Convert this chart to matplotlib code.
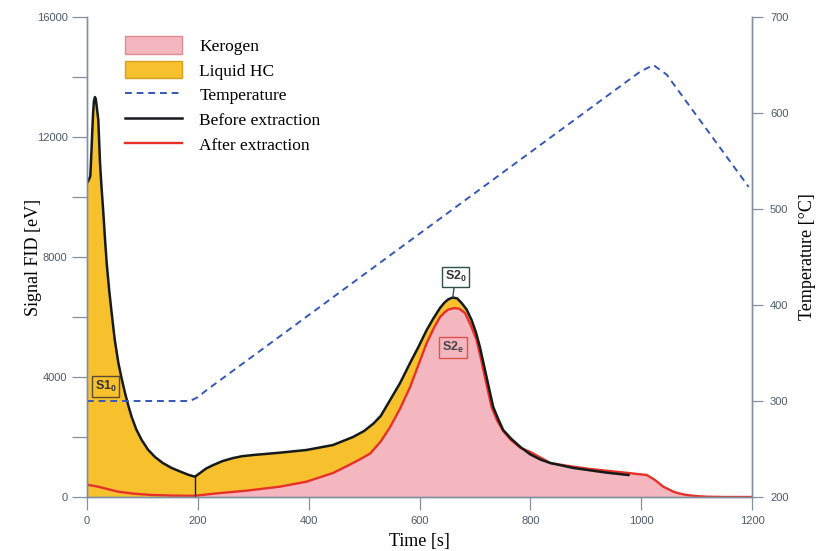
import matplotlib
matplotlib.use("Agg")
import matplotlib.pyplot as plt
from matplotlib.patches import Patch
from matplotlib.lines import Line2D
import numpy as np

plt.rcParams['mathtext.fontset'] = 'custom'
plt.rcParams['mathtext.bf'] = 'Liberation Sans:bold'
plt.rcParams['mathtext.rm'] = 'Liberation Sans'

# signal before extraction (black)
t_before = [0, 3, 6, 8, 9.6, 11, 12.5, 14.4, 16, 18, 20.4, 23.5, 26.5, 29.5, 32.5, 35.5,
            40, 44.5, 50, 56.6, 62.5, 68.6, 74.5, 80.6, 89, 98.7, 110, 122.7, 137, 152.8,
            168, 183, 192, 195, 204, 215, 228, 245, 264, 280, 300, 348, 396, 444, 480,
            500, 517, 530, 547, 565, 583, 598, 613, 625, 637, 645, 652, 660, 668, 676,
            685, 694, 702, 709, 715, 721, 727, 733, 742, 751, 765, 782, 800, 818, 836,
            878, 938, 977]
s_before = [10467, 10560, 10700, 11500, 12233, 12800, 13200, 13333, 13250, 12950, 12567,
            11133, 10250, 9467, 8600, 7800, 6900, 6133, 5250, 4467, 3950, 3467, 3050, 2667,
            2250, 1900, 1580, 1333, 1130, 967, 850, 740, 690, 680, 800, 950, 1067, 1200,
            1300, 1360, 1400, 1477, 1567, 1733, 2000, 2200, 2450, 2700, 3233, 3800, 4467,
            5000, 5567, 5950, 6300, 6480, 6590, 6650, 6620, 6467, 6250, 5900, 5480, 5000,
            4500, 4000, 3500, 3000, 2600, 2233, 1950, 1667, 1420, 1250, 1133, 967, 811,
            733]

# signal after extraction (red)
t_after = [0, 20, 40, 56, 85, 117, 160, 195, 228, 288, 348, 396, 444, 480, 495, 511,
           530, 547, 565, 583, 598, 613, 625, 637, 645, 652, 664, 672, 682, 692, 703,
           711, 718, 724, 730, 740, 751, 765, 782, 800, 836, 870, 908, 977, 1010, 1025,
           1032, 1040, 1048, 1058, 1068, 1082, 1100, 1118, 1150, 1200]
s_after = [410, 344, 250, 178, 110, 67, 45, 40, 110, 211, 344, 511, 800, 1133, 1280,
           1450, 1850, 2333, 2950, 3667, 4400, 5133, 5600, 6000, 6150, 6250, 6300, 6270,
           6133, 5750, 5233, 4600, 4000, 3500, 3000, 2550, 2200, 1900, 1640, 1500, 1133,
           1030, 933, 800, 733, 567, 460, 344, 270, 178, 120, 67, 30, 10, 0, 0]

# oven temperature
t_temp = [0, 186, 200, 215, 998, 1022, 1046, 1070, 1194]
temp = [300, 300, 304, 311, 643, 650, 640, 621, 523]

split_t = 195

yellow = '#F7C12E'
pink = '#F4B7BF'
red = '#E8302A'
blue = '#3558B8'
grey = '#8090a0'
tick_col = '#4c5c68'

fig = plt.figure(figsize=(8.18, 5.51), dpi=100)
ax = fig.add_axes([87/818, 54/551, 665/818, 480/551])
ax2 = ax.twinx()

ta = np.array(t_after)
sa = np.array(s_after)
m = ta >= split_t

ax.fill_between(t_before, 0, s_before, color=yellow, lw=0)
ax.fill_between(ta[m], 0, sa[m], color=pink, lw=0)
ax.plot(t_after, s_after, color=red, lw=1.7, solid_joinstyle='round')
ax.plot(t_before, s_before, color='#151a1a', lw=1.8, solid_joinstyle='round')
ax.plot([split_t, split_t], [0, 690], color='#151a1a', lw=1.0)

ax2.plot(t_temp, temp, color=blue, lw=1.4, ls=(0, (3.5, 2.5)))

ax.set_xlim(0, 1200)
ax.set_ylim(0, 16000)
ax2.set_ylim(200, 700)

ax.set_xticks(range(0, 1201, 200))
ax.set_yticks(range(0, 16001, 4000))
ax.set_yticks(range(2000, 16000, 4000), minor=True)
ax2.set_yticks(range(200, 701, 100))

for a in (ax, ax2):
    a.spines['top'].set_visible(False)
    for s in ('left', 'right', 'bottom'):
        a.spines[s].set_color(grey)
        a.spines[s].set_linewidth(1.0)
ax.tick_params(axis='y', which='both', length=11, width=0.9, color=grey, pad=3,
               labelsize=8, labelcolor=tick_col)
ax.tick_params(axis='x', length=9, width=0.9, color=grey, pad=5,
               labelsize=8, labelcolor=tick_col)
ax2.tick_params(axis='y', length=8, width=0.9, color=grey, pad=5,
                labelsize=8, labelcolor=tick_col)
for lab in ax.get_xticklabels() + ax.get_yticklabels() + ax2.get_yticklabels():
    lab.set_fontfamily('Liberation Sans')

serif = 'Liberation Serif'
ax.set_xlabel('Time [s]', fontfamily=serif, fontsize=13)
ax.set_ylabel('Signal FID [eV]', fontfamily=serif, fontsize=13)
ax2.set_ylabel('Temperature [\u00b0C]', fontfamily=serif, fontsize=13)
ax.xaxis.set_label_coords(0.5, -0.074)
ax.yaxis.set_label_coords(-0.068, 0.5)
ax2.yaxis.set_label_coords(1.071, 0.5)

# peak labels
ax.text(34, 3683, r'$\mathbf{S1_0}$', fontsize=9, color='#333333', ha='center', va='center',
        bbox=dict(boxstyle='square,pad=0.2', fc=yellow, ec='#5a4a30', lw=1.0))
ax.annotate(r'$\mathbf{S2_0}$', xy=(660, 6650), xytext=(665, 7343), fontsize=9,
            color='#333333', ha='center', va='center',
            bbox=dict(boxstyle='square,pad=0.2', fc='white', ec='#2f4f4f', lw=1.0),
            arrowprops=dict(arrowstyle='-', color='#2f4f4f', lw=1.0, shrinkA=0, shrinkB=0))
ax.text(661, 4983, r'$\mathbf{S2_e}$', fontsize=9, color='#444444', ha='center', va='center',
        bbox=dict(boxstyle='square,pad=0.25', fc=pink, ec='#e05050', lw=1.0))

handles = [
    Patch(facecolor=pink, edgecolor='#e08a96', lw=1.0, label='Kerogen'),
    Patch(facecolor=yellow, edgecolor='#d9a020', lw=1.0, label='Liquid HC'),
    Line2D([], [], color=blue, lw=1.4, ls=(0, (3.5, 2.5)), label='Temperature'),
    Line2D([], [], color='#151a1a', lw=1.8, label='Before extraction'),
    Line2D([], [], color=red, lw=1.7, label='After extraction'),
]
ax2.legend(handles=handles, loc='upper left', bbox_to_anchor=(0.033, 0.992), frameon=False,
           prop={'family': serif, 'size': 12.5}, handlelength=3.3, handleheight=1.15,
           handletextpad=1.0, labelspacing=0.36)

fig.savefig('out.png', dpi=100)
